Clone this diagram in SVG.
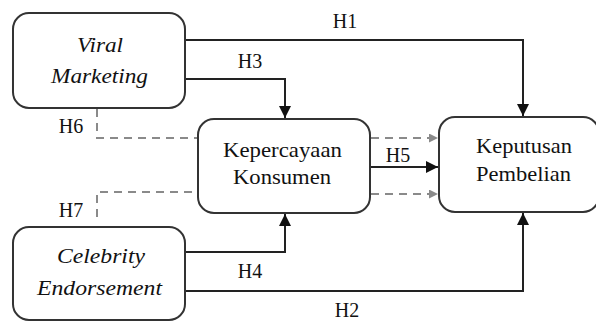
<svg xmlns="http://www.w3.org/2000/svg" width="596" height="322" viewBox="0 0 596 322">
<defs>
<style>
text{font-family:"Liberation Serif","Times New Roman",Times,serif;fill:#111;text-anchor:middle}
.box{fill:#fff;stroke:#333;stroke-width:2}
.t{font-size:21px}
.i{font-style:italic}
.lb{font-size:20px}
.ln{fill:none;stroke:#222;stroke-width:2}
.dl{fill:none;stroke:#8a8a8a;stroke-width:2;stroke-dasharray:8,6}
</style>
<marker id="ah" viewBox="0 0 10 10" refX="10" refY="5" markerWidth="6.5" markerHeight="6" orient="auto" markerUnits="strokeWidth">
<path d="M0,0 L10,5 L0,10 Z" fill="#111"/>
</marker>
<marker id="ag" viewBox="0 0 10 10" refX="10" refY="5" markerWidth="5" markerHeight="4.5" orient="auto" markerUnits="strokeWidth">
<path d="M0,0 L10,5 L0,10 Z" fill="#8a8a8a"/>
</marker>
</defs>
<rect width="596" height="322" fill="#fff"/>
<g id="connectors">
<path class="ln" d="M185,40 H523 V116" marker-end="url(#ah)"/>
<path class="ln" d="M185,79 H285 V118" marker-end="url(#ah)"/>
<path class="ln" d="M370,167 H438" marker-end="url(#ah)"/>
<path class="ln" d="M185,252 H285 V214" marker-end="url(#ah)"/>
<path class="ln" d="M185,291 H523 V213" marker-end="url(#ah)"/>
<path class="dl" d="M97,109 V138 H198"/>
<path class="dl" d="M97,217 V192 H198"/>
<path class="dl" d="M371,138 H438" marker-end="url(#ag)"/>
<path class="dl" d="M371,194 H438" marker-end="url(#ag)"/>
<text class="lb" x="345" y="28">H1</text>
<text class="lb" x="250" y="68">H3</text>
<text class="lb" x="71" y="133">H6</text>
<text class="lb" x="71" y="217">H7</text>
<text class="lb" x="398" y="162">H5</text>
<text class="lb" x="250" y="278">H4</text>
<text class="lb" x="347" y="317">H2</text>
</g>
<g id="viral">
<rect class="box" x="13" y="13" width="172" height="95" rx="16"/>
<text class="t i" x="100" y="52" textLength="46" lengthAdjust="spacingAndGlyphs">Viral</text>
<text class="t i" x="99.5" y="83" textLength="97" lengthAdjust="spacingAndGlyphs">Marketing</text>
</g>
<g id="kepercayaan">
<rect class="box" x="198" y="119" width="172" height="94" rx="16"/>
<text class="t" x="282.5" y="157" textLength="119" lengthAdjust="spacingAndGlyphs">Kepercayaan</text>
<text class="t" x="282" y="184" textLength="98" lengthAdjust="spacingAndGlyphs">Konsumen</text>
</g>
<g id="keputusan">
<rect class="box" x="439" y="117" width="160" height="95" rx="16"/>
<text class="t" x="524" y="153" textLength="96" lengthAdjust="spacingAndGlyphs">Keputusan</text>
<text class="t" x="523.5" y="181" textLength="95" lengthAdjust="spacingAndGlyphs">Pembelian</text>
</g>
<g id="celebrity">
<rect class="box" x="13" y="227" width="172" height="93" rx="16"/>
<text class="t i" x="101" y="263" textLength="88" lengthAdjust="spacingAndGlyphs">Celebrity</text>
<text class="t i" x="99.5" y="295" textLength="125" lengthAdjust="spacingAndGlyphs">Endorsement</text>
</g>
</svg>
